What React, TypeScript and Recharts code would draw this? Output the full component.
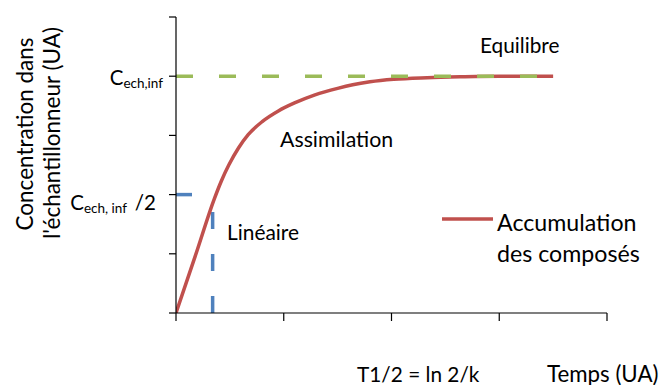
import React from "react";
import { LineChart, Line, XAxis, YAxis } from "recharts";

// Accumulation curve (time in UA, concentration in UA)
const curveX = [0, 0.18, 0.36, 0.42, 0.49, 0.58, 0.67, 0.8, 0.95, 1.1, 1.29, 1.5, 1.64, 1.8, 2.02, 2.33, 2.64, 3.0, 3.5];
const curveY = [0, 0.97, 1.95, 2.226, 2.499, 2.787, 3.012, 3.233, 3.413, 3.548, 3.685, 3.795, 3.855, 3.905, 3.948, 3.975, 3.99, 4.0, 4.0];

// Equilibrium level (C_ech,inf)
const eqX = [0, 3.5];
const eqY = [4, 4];

// Half-life markers
const halfX = [0, 0.34];
const halfY = [2, 2];
const halfVX = [0.34, 0.34];
const halfVY = [0, 1.72];

const xTicks = [0, 1, 2, 3, 4];
const yTicks = [0, 1, 2, 3, 4, 5];

const RED = "#C0504D";
const GREEN = "#9BBB59";
const BLUE = "#4F81BD";
const FONT = "Lato, 'Open Sans', sans-serif";

const toData = (xs: number[], ys: number[]) => xs.map((x, i) => ({ x, y: ys[i] }));
const redData = toData(curveX, curveY);
const eqData = toData(eqX, eqY);
const halfData = toData(halfX, halfY);
const halfVData = toData(halfVX, halfVY);

const YTick = (props: any) => {
  const { x, y, payload } = props;
  if (payload.value === 4) {
    return (
      <text x={x - 4} y={y + 8.5} textAnchor="end" fontFamily={FONT} fontSize={20.5} fill="#000">
        <tspan>C</tspan>
        <tspan fontSize={13.5} dy={3.5}>ech,inf</tspan>
      </text>
    );
  }
  if (payload.value === 2) {
    return (
      <g>
        <text x={x - 40} y={y + 15} textAnchor="end" fontFamily={FONT} fontSize={20.5} fill="#000">
          <tspan>C</tspan>
          <tspan fontSize={13.5} dy={3}>ech, inf</tspan>
        </text>
        <text x={x - 11} y={y + 15} textAnchor="end" fontFamily={FONT} fontSize={20.5} fill="#000">/2</text>
      </g>
    );
  }
  return <g />;
};

const EmptyTick = () => <g />;

export default function App() {
  return (
    <div style={{ position: "absolute", left: 0, top: 0, width: 660, height: 385, background: "#fff" }}>
      <LineChart width={660} height={385} margin={{ top: 17, right: 53, bottom: 42, left: 0 }}>
        <XAxis
          dataKey="x"
          type="number"
          domain={[0, 4]}
          ticks={xTicks}
          tick={EmptyTick}
          tickSize={8}
          axisLine={{ stroke: "#000", strokeWidth: 1.2 }}
          tickLine={{ stroke: "#000", strokeWidth: 1.2 }}
          height={30}
          allowDataOverflow
        />
        <YAxis
          dataKey="y"
          type="number"
          domain={[0, 5]}
          ticks={yTicks}
          tick={YTick}
          tickSize={7}
          width={176}
          interval={0}
          axisLine={{ stroke: "#000", strokeWidth: 1.2 }}
          tickLine={{ stroke: "#000", strokeWidth: 1.2 }}
          allowDataOverflow
        />
        <Line data={halfVData} dataKey="y" type="linear" stroke={BLUE} strokeWidth={3.5} strokeDasharray="17 25" dot={false} isAnimationActive={false} />
        <Line data={halfData} dataKey="y" type="linear" stroke={BLUE} strokeWidth={3.5} strokeDasharray="16 26" dot={false} isAnimationActive={false} />
        <Line data={redData} dataKey="y" type="monotone" stroke={RED} strokeWidth={3.5} dot={false} isAnimationActive={false} />
        <Line data={eqData} dataKey="y" type="linear" stroke={GREEN} strokeWidth={3.5} strokeDasharray="17 26" dot={false} isAnimationActive={false} />
      </LineChart>
      <svg width={660} height={385} style={{ position: "absolute", left: 0, top: 0, pointerEvents: "none" }}>
        <g fontFamily={FONT} fill="#000">
          <text x={33} y={134} fontSize={22.5} textAnchor="middle" transform="rotate(-90 33 134)">Concentration dans</text>
          <text x={60} y={133} fontSize={22.5} textAnchor="middle" transform="rotate(-90 60 133)">l'échantillonneur (UA)</text>
          <text x={480} y={53} fontSize={20.8}>Equilibre</text>
          <text x={280} y={147} fontSize={21.3}>Assimilation</text>
          <text x={227} y={240} fontSize={20.9}>Linéaire</text>
          <text x={357} y={381.5} fontSize={20.8}>T1/2 = ln 2/k</text>
          <text x={547} y={381.5} fontSize={22.3}>Temps (UA)</text>
          <line x1={442} y1={219} x2={493} y2={219} stroke={RED} strokeWidth={3.5} />
          <text x={497} y={231} fontSize={23.2}>Accumulation</text>
          <text x={497} y={262} fontSize={23.2}>des composés</text>
        </g>
      </svg>
    </div>
  );
}
